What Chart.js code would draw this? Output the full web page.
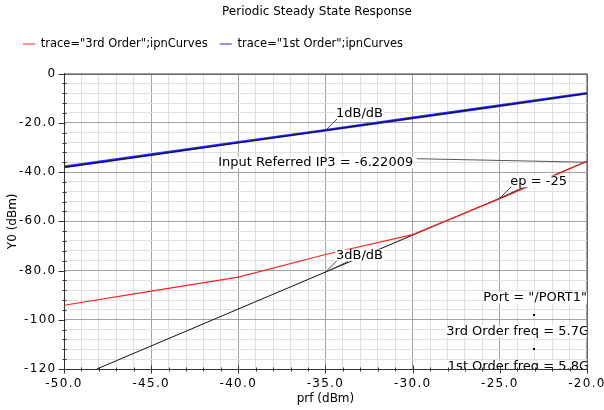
<!DOCTYPE html>
<html><head><meta charset="utf-8">
<script src="https://cdn.jsdelivr.net/npm/chart.js@4/dist/chart.umd.min.js"></script>
<style>html,body{margin:0;padding:0;background:#fff;}</style>
</head><body>
<canvas id="c" width="604" height="410" style="display:block"></canvas>
<script>
// ---- data ----
const prf = [-50, -45, -40, -35, -30, -25, -20];
const thirdOrder = [-94.1, -88.4, -82.7, -73.5, -65.4, -50.8, -35.6];
const firstOrder = [-37.9, -32.9, -27.9, -23.0, -18.0, -13.0, -8.0];
const fundExtrapX = [-50, -20];
const fundExtrapY = [-38.1, -8.1];
const thirdExtrapX = [-48.12, -20];
const thirdExtrapY = [-120, -35.6];
const xTickValues = [-50, -45, -40, -35, -30, -25, -20];
const xTickLabels = ['-50.0', '-45.0', '-40.0', '-35.0', '-30.0', '-25.0', '-20.0'];
const yTickValues = [-120, -100, -80, -60, -40, -20, 0];
const yTickLabels = ['-120', '-100', '-80.0', '-60.0', '-40.0', '-20.0', '0'];
const seriesNames = ['trace="3rd Order";ipnCurves', 'trace="1st Order";ipnCurves'];
const ip3Text = 'Input Referred IP3 = -6.22009';
const ip3LabelAt = [-41.15, -36.2];
const markerTexts = ['1dB/dB', '3dB/dB', 'ep = -25'];
const markerX = [-35, -35, -25];
const infoTexts = ['Port = "/PORT1"', '3rd Order freq = 5.7G', '1st Order freq = 5.8G'];

const FONT = '"DejaVu Sans", sans-serif';
const pts = (xs, ys) => xs.map((v, i) => ({x: v, y: ys[i]}));
const onLine = (xs, ys, v) => ys[0] + (ys[1] - ys[0]) * (v - xs[0]) / (xs[1] - xs[0]);
const isMajor = (v, step) => Math.abs(v / step - Math.round(v / step)) < 1e-6;

const canvas = document.getElementById('c');
const c2d = canvas.getContext('2d');
const nativeFill = CanvasRenderingContext2D.prototype.fillText;
// tick labels (12.01px) get a little letter spacing, like the reference
c2d.fillText = function (t, x, y, m) {
  const prev = this.letterSpacing;
  if (/12\.01px/.test(this.font)) this.letterSpacing = '1.3px';
  const r = m === undefined ? nativeFill.call(this, t, x, y) : nativeFill.call(this, t, x, y, m);
  this.letterSpacing = prev;
  return r;
};

const annot = {
  id: 'annot',
  afterLayout(chart) {
    if (chart.titleBlock) chart.titleBlock.left = 30;
    if (chart.legend) chart.legend.left = 11;
  },
  afterDatasetsDraw(chart) {
    const {ctx, chartArea: ca, scales: {x, y}} = chart;
    ctx.save();
    ctx.beginPath();
    ctx.rect(ca.left, ca.top, ca.right - ca.left, ca.bottom - ca.top);
    ctx.clip();
    ctx.font = '13px ' + FONT;
    ctx.textBaseline = 'middle';
    ctx.textAlign = 'left';
    const label = (txt, lx, cy, right) => {
      const w = ctx.measureText(txt).width;
      if (right) lx = lx - w;
      ctx.fillStyle = '#fff';
      ctx.fillRect(lx - 1, cy - 6, w + 2, 11.5);
      ctx.fillStyle = '#000';
      ctx.fillText(txt, lx, cy);
      return w;
    };
    const seg = (x1, y1, x2, y2, col) => {
      ctx.strokeStyle = col; ctx.lineWidth = 1;
      ctx.beginPath(); ctx.moveTo(x1, y1); ctx.lineTo(x2, y2); ctx.stroke();
    };
    const anchors = [
      [markerX[0], onLine(fundExtrapX, fundExtrapY, markerX[0])],
      [markerX[1], onLine(thirdExtrapX, thirdExtrapY, markerX[1])],
      [markerX[2], onLine(thirdExtrapX, thirdExtrapY, markerX[2])]
    ];
    anchors.forEach((a, i) => {
      const ax = x.getPixelForValue(a[0]), ay = y.getPixelForValue(a[1]);
      const lx = ax + 10.5, cy = ay - 16.5;
      label(markerTexts[i], lx, cy);
      seg(ax, ay, lx + 1, cy + 5, '#444');
      if (i > 0) seg(ax, ay, lx + 12, cy + 6, '#444');
    });
    const ipx = x.getPixelForValue(ip3LabelAt[0]), ipy = y.getPixelForValue(ip3LabelAt[1]);
    const w = label(ip3Text, ipx, ipy);
    seg(ipx + w + 4, ipy - 4, x.getPixelForValue(thirdExtrapX[1]), y.getPixelForValue(thirdExtrapY[1]) + 1, '#555');
    const rx = ca.right + 2;
    label(infoTexts[0], rx - 2, ca.bottom - 71, true);
    label(infoTexts[1], rx, ca.bottom - 37.3, true);
    label(infoTexts[2], rx, ca.bottom - 2.3, true);
    ctx.fillStyle = '#000';
    ctx.fillRect(ca.right - 54, ca.bottom - 55, 2, 2);
    ctx.fillRect(ca.right - 54, ca.bottom - 21, 2, 2);
    ctx.restore();
  },
  afterDraw(chart) {
    const {ctx, chartArea: ca, scales: {x, y}} = chart;
    ctx.save();
    ctx.lineWidth = 1;
    ctx.strokeStyle = '#666';
    ctx.beginPath();
    ctx.moveTo(ca.left, Math.round(ca.top) + 0.5); ctx.lineTo(ca.right, Math.round(ca.top) + 0.5);
    ctx.moveTo(Math.round(ca.right) + 0.5, ca.top); ctx.lineTo(Math.round(ca.right) + 0.5, ca.bottom);
    ctx.stroke();
    ctx.strokeStyle = '#333';
    const by = Math.round(ca.bottom) + 0.5, lx = Math.round(ca.left) + 0.5;
    ctx.beginPath();
    ctx.moveTo(ca.left, by); ctx.lineTo(ca.right + 1, by);
    ctx.moveTo(lx, ca.top); ctx.lineTo(lx, ca.bottom);
    for (let v = -50; v <= -20; v += 1) {
      const px = Math.round(x.getPixelForValue(v)) + 0.5;
      if (isMajor(v, 5)) { ctx.moveTo(px, by - 4); ctx.lineTo(px, by + 4); }
      else { ctx.moveTo(px, by - 2); ctx.lineTo(px, by + 2); }
    }
    for (let v = -120; v <= 0; v += 4) {
      const py = Math.round(y.getPixelForValue(v)) + 0.5;
      if (isMajor(v, 20)) { ctx.moveTo(lx - 6, py); ctx.lineTo(lx + 1, py); }
      else { ctx.moveTo(lx - 2, py); ctx.lineTo(lx + 2, py); }
    }
    ctx.stroke();
    ctx.restore();
  }
};

const gridColor = step => ctx => (ctx.tick && isMajor(ctx.tick.value, step)) ? '#a3a3a3' : '#e0e0e0';

new Chart(canvas, {
  type: 'line',
  data: {
    datasets: [
      {label: seriesNames[0], data: pts(prf, thirdOrder), borderColor: '#ff2424', backgroundColor: '#ff2424', borderWidth: 1.2, pointRadius: 0, order: 2, tension: 0},
      {label: seriesNames[1], data: pts(prf, firstOrder), borderColor: '#2626ff', backgroundColor: '#2626ff', borderWidth: 2.6, pointRadius: 0, order: 1, tension: 0},
      {label: 'x3', data: pts(thirdExtrapX, thirdExtrapY), borderColor: '#111', borderWidth: 1, pointRadius: 0, order: 3},
      {label: 'x1', data: pts(fundExtrapX, fundExtrapY), borderColor: '#111', borderWidth: 0.9, pointRadius: 0, order: 0}
    ]
  },
  options: {
    responsive: false,
    animation: false,
    devicePixelRatio: 1,
    layout: {padding: 0},
    plugins: {
      tooltip: {enabled: false},
      title: {display: true, text: 'Periodic Steady State Response', color: '#000',
        font: {family: FONT, size: 12, weight: 'normal'}, padding: {top: 5, bottom: 6.85}},
      subtitle: {display: true, text: '', weight: 500, padding: 0, font: {family: FONT, size: 10, lineHeight: 1.385}},
      legend: {display: true, align: 'start',
        labels: {color: '#000', font: {family: FONT, size: 11.5}, boxWidth: 12, boxHeight: 1, padding: 12,
          filter: item => item.datasetIndex < 2,
          sort: (a, b) => a.datasetIndex - b.datasetIndex,
          generateLabels: chart => chart.data.datasets.map((d, i) => ({text: d.label, fillStyle: d.borderColor, strokeStyle: d.borderColor, lineWidth: 0, datasetIndex: i, hidden: false, fontColor: '#000'}))
        }}
    },
    scales: {
      x: {type: 'linear', min: -50, max: -20,
        ticks: {stepSize: 1, autoSkip: false, maxRotation: 0, color: '#000', padding: 1.5,
          font: {family: FONT, size: 12.01},
          callback: v => { const i = xTickValues.indexOf(v); return i >= 0 ? xTickLabels[i] : ''; }},
        grid: {color: gridColor(5), drawTicks: true, tickLength: 6.5, tickColor: 'rgba(0,0,0,0)'},
        border: {display: true, color: '#333'},
        title: {display: true, text: 'prf (dBm)', color: '#000', font: {family: FONT, size: 12}, padding: {top: 0, bottom: 4}},
        afterFit: s => { s.height = 41; }
      },
      y: {type: 'linear', min: -120, max: 0,
        ticks: {stepSize: 4, autoSkip: false, color: '#000', padding: 1.5,
          font: {family: FONT, size: 12.01},
          callback: v => { const i = yTickValues.indexOf(v); return i >= 0 ? yTickLabels[i] : ''; }},
        grid: {color: gridColor(20), drawTicks: true, tickLength: 6, tickColor: 'rgba(0,0,0,0)'},
        border: {display: true, color: '#333'},
        title: {display: true, text: 'Y0 (dBm)', color: '#000', font: {family: FONT, size: 12}, padding: {top: 5.3, bottom: 5.3}},
        afterFit: s => { s.width = 64; }
      }
    }
  },
  plugins: [annot]
});
</script>
</body></html>
